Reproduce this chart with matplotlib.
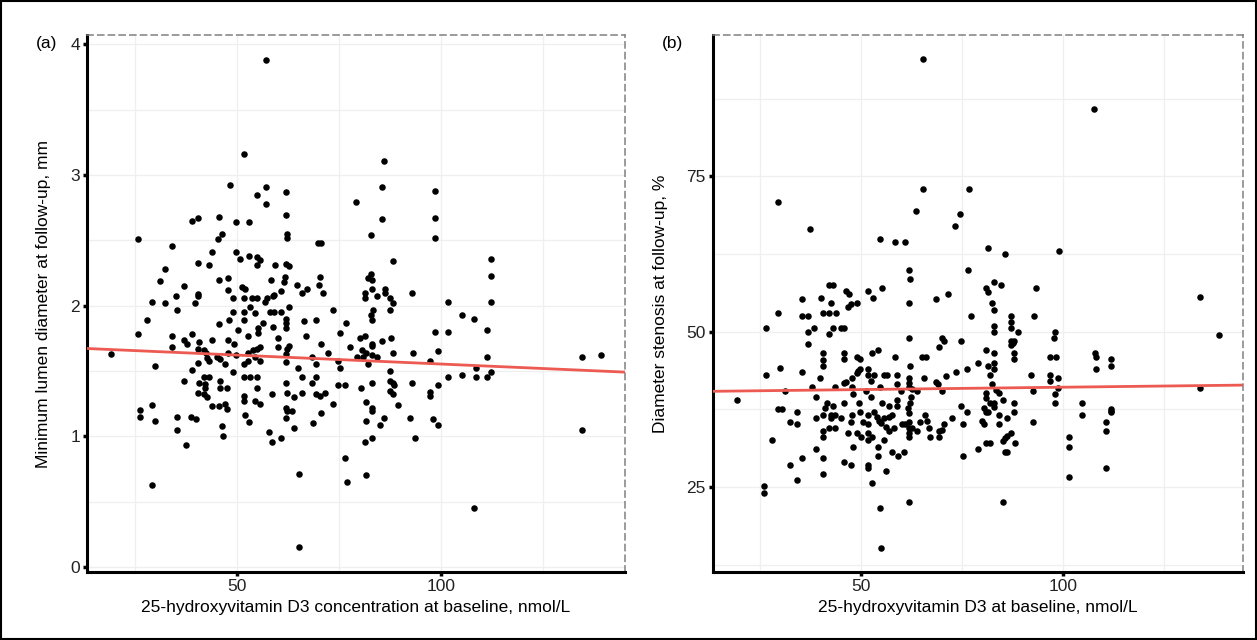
import matplotlib
matplotlib.use("Agg")
import matplotlib.pyplot as plt
from matplotlib.patches import Rectangle
from matplotlib.ticker import MultipleLocator

plt.rcParams['font.family'] = ['Liberation Sans', 'DejaVu Sans']

# --------------------------------------------------------------
# panel (a): vitamin D3 vs minimum lumen diameter (mm)
a_x = [57.1, 51.7, 48.3, 54.9, 57.1, 57.1, 39.0, 40.4, 45.6, 49.8, 52.9, 25.7, 46.3, 45.3,
       34.1, 43.9, 49.8, 50.7, 52.9, 54.9, 55.6, 54.9, 40.4, 43.1, 32.4, 31.1, 45.6, 47.8,
       37.0, 47.8, 51.2, 52.0, 40.4, 40.4, 35.0, 49.0, 51.7, 53.7, 54.9,
       62.0, 62.0, 62.3, 62.3, 69.9, 70.6, 86.0, 85.5, 79.2, 85.5, 82.8, 98.5, 98.5, 98.5,
       88.2, 59.3, 62.0, 62.7, 58.3, 61.8, 61.5, 64.7, 67.2, 70.3, 70.1, 71.1, 65.9, 60.8,
       59.1, 58.8, 57.4, 82.8, 82.1, 83.1, 81.4, 83.1, 84.3, 86.3, 86.3, 87.5, 92.9, 81.4,
       112.3, 112.3, 112.3,
       29.2, 32.4, 35.3, 39.7, 27.9, 25.7, 34.1, 34.1, 19.1, 29.9, 37.0, 37.7, 39.0, 40.7,
       43.9, 45.6, 48.0, 49.0, 51.7, 53.2, 54.4, 51.7, 50.2, 52.7, 55.1, 55.1, 47.8, 49.3,
       40.4, 41.9, 42.4, 47.8, 49.8, 42.6, 43.1, 45.1, 45.8, 40.4, 47.1, 39.0, 51.7, 52.7,
       53.9, 54.9, 55.6, 52.7, 54.4, 55.6, 49.0, 41.9, 43.1, 37.0, 40.7, 42.2, 45.8, 42.2,
       45.8, 47.5, 51.7, 53.2, 54.9, 54.9, 40.4, 41.9, 42.6, 51.7, 51.7, 54.4, 55.6, 47.1,
       47.5, 43.9, 45.6, 29.2, 26.2, 26.2, 29.9, 35.3, 38.7, 40.0, 35.3, 52.0, 52.9, 46.3,
       46.6, 37.5, 29.2,
       56.9, 88.2, 87.5, 62.7, 73.5, 83.3, 82.8, 83.1, 58.1, 59.1, 60.8, 56.4, 62.0, 62.0,
       62.0, 58.8, 66.4, 69.4, 76.7, 75.2, 66.9, 60.0, 80.1, 81.4, 83.1, 83.1, 85.5, 87.7,
       98.5, 60.0, 62.3, 62.7, 70.6, 72.3, 77.7, 80.6, 81.6, 79.4, 80.9, 83.1, 84.3, 82.1,
       88.2, 93.1, 99.3, 97.3, 62.0, 62.0, 68.4, 69.4, 74.8, 75.2, 65.0, 65.9, 69.4, 68.4,
       62.0, 74.8, 76.5, 80.4, 83.1, 87.5, 87.5, 88.2, 88.5, 87.5, 88.2, 92.9, 99.3, 97.3,
       97.3, 62.3, 65.9, 69.4, 70.3, 71.6, 58.6, 64.0, 73.5, 81.6, 89.5, 62.0, 62.3, 63.5,
       70.6, 83.1, 83.1, 62.0, 68.6, 81.6, 85.0, 86.0, 92.4, 98.0, 99.3, 57.8, 58.6, 60.8,
       64.0, 81.4, 83.1, 93.6, 76.5, 77.0, 65.2, 81.6, 65.2,
       101.7, 105.1, 108.1, 101.7, 111.3, 111.3, 108.6, 101.7, 105.1, 108.6, 111.3, 112.3,
       134.6, 139.2, 134.6, 108.1]
a_y = [3.88, 3.16, 2.92, 2.85, 2.91, 2.78, 2.65, 2.67, 2.68, 2.64, 2.64, 2.51, 2.55, 2.51,
       2.46, 2.41, 2.41, 2.36, 2.38, 2.37, 2.35, 2.31, 2.33, 2.31, 2.28, 2.19, 2.20, 2.21,
       2.15, 2.12, 2.14, 2.13, 2.09, 2.07, 2.07, 2.06, 2.06, 2.06, 2.06,
       2.87, 2.69, 2.55, 2.52, 2.48, 2.48, 3.11, 2.91, 2.79, 2.66, 2.54, 2.88, 2.67, 2.52,
       2.34, 2.31, 2.32, 2.30, 2.20, 2.22, 2.18, 2.16, 2.13, 2.22, 2.16, 2.10, 2.10, 2.11,
       2.08, 2.07, 2.06, 2.24, 2.21, 2.20, 2.10, 2.13, 2.07, 2.13, 2.10, 2.06, 2.10, 2.06,
       2.36, 2.23, 2.03,
       2.03, 2.02, 1.97, 2.02, 1.89, 1.78, 1.77, 1.68, 1.63, 1.54, 1.74, 1.71, 1.78, 1.72,
       1.74, 1.86, 1.89, 1.95, 1.95, 1.99, 1.94, 1.89, 1.81, 1.77, 1.83, 1.79, 1.74, 1.71,
       1.67, 1.66, 1.64, 1.64, 1.62, 1.60, 1.58, 1.61, 1.59, 1.56, 1.55, 1.51, 1.55, 1.64,
       1.66, 1.67, 1.68, 1.58, 1.61, 1.58, 1.49, 1.45, 1.45, 1.42, 1.41, 1.40, 1.42, 1.37,
       1.37, 1.37, 1.45, 1.45, 1.45, 1.37, 1.33, 1.32, 1.30, 1.31, 1.27, 1.27, 1.25, 1.25,
       1.21, 1.23, 1.23, 1.24, 1.20, 1.15, 1.12, 1.15, 1.15, 1.13, 1.05, 1.16, 1.11, 1.08,
       1.00, 0.93, 0.63,
       2.03, 2.02, 1.97, 1.99, 1.97, 1.97, 1.93, 1.89, 1.95, 1.95, 1.95, 1.87, 1.90, 1.87,
       1.83, 1.84, 1.88, 1.89, 1.87, 1.79, 1.77, 1.75, 1.75, 1.77, 1.71, 1.69, 1.73, 1.75,
       1.80, 1.68, 1.67, 1.69, 1.71, 1.64, 1.68, 1.66, 1.64, 1.61, 1.61, 1.62, 1.61, 1.55,
       1.64, 1.64, 1.65, 1.58, 1.63, 1.57, 1.61, 1.55, 1.58, 1.52, 1.52, 1.45, 1.45, 1.41,
       1.41, 1.39, 1.39, 1.37, 1.41, 1.50, 1.42, 1.41, 1.39, 1.35, 1.32, 1.41, 1.39, 1.34,
       1.31, 1.33, 1.33, 1.32, 1.31, 1.33, 1.32, 1.30, 1.25, 1.26, 1.24, 1.22, 1.19, 1.19,
       1.18, 1.22, 1.19, 1.14, 1.10, 1.12, 1.09, 1.14, 1.14, 1.13, 1.09, 1.03, 0.96, 0.99,
       1.06, 0.96, 0.99, 0.99, 0.83, 0.65, 0.71, 0.70, 0.15,
       2.03, 1.93, 1.90, 1.80, 1.81, 1.61, 1.52, 1.45, 1.47, 1.45, 1.45, 1.49,
       1.61, 1.62, 1.05, 0.45]
a_fit = (1.690, -0.00137)  # intercept, slope

# panel (b): vitamin D3 vs diameter stenosis (%)
b_x = [29.3, 37.4, 54.7, 42.1, 42.9, 46.3, 47.0, 51.7, 53.0, 55.2, 39.9, 35.2,
       65.3, 65.3, 76.8, 63.5, 74.4, 73.2, 58.4, 60.8, 81.5, 85.7, 99.0, 61.8, 62.1, 76.4,
       82.8, 84.7, 81.0, 81.3, 93.3, 68.5, 71.4, 107.6, 134.0,
       42.4, 46.6, 47.5, 49.0, 29.3, 35.2, 36.9, 40.4, 42.1, 43.8, 26.4, 36.9, 38.4, 42.1,
       42.9, 45.1, 45.8, 36.9, 40.4, 40.4, 40.4, 45.6, 45.6, 49.0, 49.8, 52.7, 54.2, 29.8,
       26.4, 35.2, 49.3, 49.8, 49.0, 51.7, 51.7, 53.2, 55.7, 56.4, 39.7, 37.7, 45.8, 46.3,
       47.8, 52.5, 31.0, 43.6, 47.8, 51.2, 54.7, 48.0, 19.2, 38.9, 52.5, 45.6, 41.6, 42.9,
       49.5, 55.2, 29.3, 30.3, 34.0, 40.9, 40.4, 42.4, 42.4, 43.6, 45.1, 47.8, 49.8, 51.7,
       53.2, 53.9, 54.4, 54.9, 55.7, 56.2, 38.9, 32.3, 34.0, 47.5, 50.5, 51.7, 41.9, 43.6,
       40.4, 40.4, 46.8, 49.0, 50.0, 51.7, 52.7, 51.7, 55.7, 27.8, 48.0, 54.2, 38.9, 54.2,
       35.2, 40.6, 45.6, 47.5, 51.7, 51.7, 56.2, 32.3, 40.4, 34.0, 52.7, 25.9, 25.9, 54.7,
       54.9,
       61.8, 82.5, 82.8, 77.3, 87.2, 87.2, 87.2, 92.9, 82.8, 82.8, 88.9, 98.0, 97.8, 61.8,
       70.0, 70.4, 74.6, 87.2, 87.7, 87.2, 87.9, 69.2, 81.0, 82.8, 87.9, 87.9, 58.4, 65.0,
       66.0, 96.8, 98.3, 78.8, 62.1, 81.3, 82.8, 82.8, 76.1, 73.4, 70.9, 58.9, 61.8, 65.5,
       81.8, 92.1, 96.8, 96.8, 98.8, 58.9, 61.8, 68.5, 69.0, 61.8, 62.6, 63.8, 59.9, 82.5,
       83.3, 84.0, 70.0, 92.6, 98.8, 98.0, 98.0, 81.0, 62.3, 58.9, 56.9, 58.9, 62.1, 61.6,
       61.8, 81.0, 81.8, 82.8, 82.8, 85.2, 74.6, 80.3, 81.0, 81.5, 76.1, 87.9, 87.9, 56.9,
       57.6, 56.9, 58.1, 60.1, 60.8, 61.8, 62.6, 61.8, 63.8, 64.5, 65.8, 66.3, 66.7, 69.2,
       70.0, 70.4, 72.4, 67.0, 69.2, 61.8, 61.8, 75.1, 79.8, 80.5, 84.2, 84.2, 86.2, 87.2,
       86.2, 85.7, 85.2, 88.2, 80.8, 82.0, 92.6, 57.6, 59.1, 60.6, 78.8, 75.1, 85.7, 86.2,
       61.8, 85.2,
       138.7, 107.9, 108.1, 108.1, 111.8, 111.8, 134.0, 104.7, 104.7, 111.8, 111.8, 111.8,
       110.6, 110.6, 101.5, 101.5, 110.6, 101.5]
b_y = [70.8, 66.5, 64.9, 57.5, 57.5, 56.5, 56.0, 56.5, 55.4, 57.0, 55.4, 55.2,
       93.8, 72.9, 72.9, 69.4, 68.9, 67.0, 64.4, 64.4, 63.4, 62.5, 62.9, 59.9, 58.4, 59.9,
       58.0, 57.5, 57.0, 56.4, 57.0, 55.2, 56.0, 85.8, 55.5,
       54.6, 53.9, 54.4, 54.6, 53.0, 52.5, 52.5, 53.0, 53.0, 53.0, 50.6, 49.9, 50.6, 49.6,
       50.6, 50.6, 50.6, 48.0, 46.5, 45.4, 44.5, 46.5, 45.6, 46.0, 45.6, 46.5, 47.0, 44.1,
       43.0, 43.5, 43.6, 44.0, 43.3, 44.0, 43.0, 43.0, 43.0, 43.0, 42.5, 41.1, 41.7, 41.9,
       42.5, 42.0, 40.4, 41.1, 41.1, 40.4, 41.1, 40.0, 39.0, 39.5, 39.5, 38.5, 38.5, 38.0,
       38.5, 38.5, 37.5, 37.5, 37.1, 37.7, 36.6, 36.6, 36.1, 36.6, 36.1, 36.6, 37.1, 36.6,
       37.1, 36.3, 35.6, 35.3, 36.1, 34.6, 36.1, 35.5, 35.1, 35.5, 35.5, 35.1, 34.5, 34.5,
       34.0, 33.0, 33.7, 33.7, 33.0, 33.7, 33.0, 32.6, 32.6, 32.6, 31.4, 31.4, 31.1, 30.0,
       29.7, 29.7, 29.0, 28.5, 28.5, 28.1, 27.6, 28.5, 27.1, 26.1, 25.6, 25.2, 24.0, 21.6,
       15.2,
       54.6, 54.6, 53.5, 52.5, 52.5, 51.5, 50.6, 52.5, 50.9, 49.9, 49.9, 49.9, 48.9, 48.9,
       48.9, 48.5, 48.5, 48.5, 48.1, 47.8, 48.5, 47.5, 47.0, 46.5, 46.5, 45.6, 46.0, 46.0,
       46.0, 46.0, 46.0, 45.0, 44.5, 44.5, 45.0, 44.0, 44.0, 43.5, 42.8, 43.0, 42.5, 42.5,
       43.0, 43.0, 43.0, 42.0, 42.5, 41.6, 41.7, 41.9, 41.6, 41.1, 40.8, 40.4, 40.4, 41.6,
       40.6, 40.1, 40.4, 40.4, 40.9, 40.0, 38.5, 40.1, 39.5, 39.0, 38.0, 38.0, 38.5, 37.7,
       36.9, 39.3, 38.5, 38.5, 37.9, 39.0, 38.0, 37.7, 37.1, 37.1, 37.1, 38.5, 37.1, 36.3,
       36.6, 34.0, 34.5, 35.1, 35.1, 35.5, 34.5, 34.5, 34.0, 35.5, 36.6, 35.6, 34.5, 34.0,
       34.2, 35.1, 36.1, 33.0, 33.0, 33.7, 33.0, 35.1, 35.6, 35.1, 36.6, 35.1, 36.1, 33.7,
       33.2, 32.9, 32.4, 32.1, 32.1, 32.1, 35.5, 30.6, 30.0, 30.6, 31.1, 30.0, 30.6, 30.6,
       22.6, 22.6,
       49.4, 46.5, 45.9, 44.0, 45.6, 44.5, 40.9, 38.5, 36.6, 37.5, 37.2, 37.1,
       35.5, 34.0, 33.0, 31.4, 28.1, 26.6]
b_fit = (40.3, 0.0076)  # intercept, slope

# --------------------------------------------------------------

def panel(ax, x, y, fit, xlim, ylim, ymajor, xlabel, ylabel, tag, ylabpad):
  ax.set_xlim(xlim)
  ax.set_ylim(ylim)

  # grid (major + minor like ggplot)
  ax.xaxis.set_major_locator(MultipleLocator(50))
  ax.xaxis.set_minor_locator(MultipleLocator(25))
  ax.yaxis.set_major_locator(MultipleLocator(ymajor))
  ax.yaxis.set_minor_locator(MultipleLocator(ymajor / 2))
  ax.grid(True, which="both", color="#efefef", linewidth=0.9)
  ax.set_axisbelow(True)

  # points + regression line
  ax.scatter(x, y, s=22, color="black", linewidths=0, zorder=3)
  xs = [xlim[0], xlim[1]]
  ax.plot(xs, [fit[0] + fit[1] * v for v in xs], color="#ec5a52", linewidth=2.0, zorder=4)

  # spines
  for s in ["left", "bottom"]:
    ax.spines[s].set_color("black")
    ax.spines[s].set_linewidth(2.2)
  for s in ["top", "right"]:
    ax.spines[s].set_color("#808080")
    ax.spines[s].set_linewidth(1.1)
    ax.spines[s].set_linestyle((0, (4, 3)))

  ax.tick_params(which="major", length=3, width=2.5, color="black",
                 labelsize=12.5, labelcolor="#222222", pad=2)
  ax.tick_params(which="minor", length=0)

  ax.set_xlabel(xlabel, fontsize=12.5, labelpad=4)
  ax.set_ylabel(ylabel, fontsize=12.5, labelpad=ylabpad)
  ax.text(-0.095, 0.985, tag, transform=ax.transAxes, fontsize=12.5, ha="left", va="center")


fig = plt.figure(figsize=(12.57, 6.4), dpi=100)
ax1 = fig.add_axes([0.0692, 0.106, 0.428, 0.839])
ax2 = fig.add_axes([0.567, 0.106, 0.422, 0.839])

panel(ax1, a_x, a_y, a_fit, (13.2, 145.1), (-0.04, 4.07), 1,
      "25-hydroxyvitamin D3 concentration at baseline, nmol/L",
      "Minimum lumen diameter at follow-up, mm", "(a)", 14)
panel(ax2, b_x, b_y, b_fit, (13.2, 144.6), (11.3, 97.7), 25,
      "25-hydroxyvitamin D3 at baseline, nmol/L",
      "Diameter stenosis at follow-up, %", "(b)", 13)

# outer frame
fig.patches.append(Rectangle((0.001, 0.002), 0.998, 0.996, transform=fig.transFigure,
                             fill=False, edgecolor="black", linewidth=1.5))

fig.savefig("out.png", dpi=100, facecolor="white")
